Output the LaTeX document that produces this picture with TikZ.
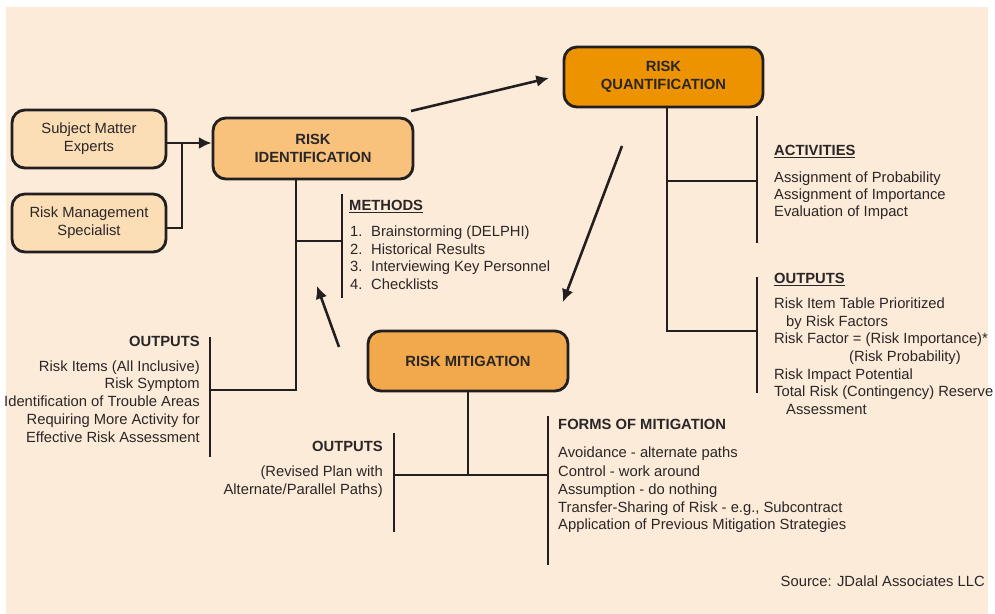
\documentclass[tikz,border=0pt]{standalone}
\usepackage{fontspec}
\setmainfont{Liberation Sans}
\usetikzlibrary{arrows.meta}
\definecolor{paper}{HTML}{FCEBD8}
\definecolor{ink}{HTML}{231F20}
\definecolor{txtc}{HTML}{2A2627}
\definecolor{paletan}{HTML}{FBDDB6}
\definecolor{idfill}{HTML}{F8C17C}
\definecolor{qfill}{HTML}{EE9300}
\definecolor{mfill}{HTML}{F2A94B}
\newcommand\dgfs{\fontsize{12.6}{15.3}\selectfont}
\tikzset{
  box/.style={draw=ink, line width=2.4pt, rounded corners=11pt, inner sep=0pt,
    align=center, font=\dgfs, text=txtc},
  titlebox/.style={box, font=\dgfs\bfseries},
  wire/.style={draw=ink, line width=2.2pt},
  bar/.style={draw=ink, line width=2.4pt},
  arr/.style={wire, -{Latex[length=3.8mm,width=3.6mm]}},
  txl/.style={anchor=base west, inner sep=0pt, font=\dgfs, text=txtc},
  txr/.style={anchor=base east, inner sep=0pt, font=\dgfs, text=txtc},
  hdl/.style={txl, font=\dgfs\bfseries},
  hdr/.style={txr, font=\dgfs\bfseries},
}
\begin{document}
\begin{tikzpicture}[x=0.03cm, y=-0.03cm]
\fill[white] (0,0) rectangle (995,614);
\useasboundingbox (0,0) rectangle (995,614);
\fill[paper] (6,7) rectangle (988,614);

% process boxes
\node[box, fill=paletan, minimum width=4.62cm, minimum height=1.74cm] (sme) at (89,139) {Subject Matter\\Experts};
\node[box, fill=paletan, minimum width=4.62cm, minimum height=1.74cm] (rms) at (89,223) {Risk Management\\Specialist};
\node[titlebox, fill=idfill, minimum width=6cm, minimum height=1.83cm] (ri) at (313,148.5) {RISK\\IDENTIFICATION};
\node[titlebox, fill=qfill, minimum width=5.97cm, minimum height=1.8cm] (rq) at (663.5,77) {RISK\\QUANTIFICATION};
\node[titlebox, fill=mfill, minimum width=6cm, minimum height=1.8cm] (rm) at (468,361) {RISK MITIGATION};

% inputs into identification
\coordinate (jtop) at (182,143);
\coordinate (jlow) at (182,228);
\draw[wire] (rms.east |- jlow) -- (jlow) -- (jtop);
\draw[arr] (sme.east |- jtop) -- (ri.west |- jtop);

% cycle arrows between the three stages
\coordinate (c1s) at (411,111);
\coordinate (c1e) at (549,78);
\coordinate (c2s) at (622,146);
\coordinate (c2e) at (563,302);
\coordinate (c3s) at (339,347);
\coordinate (c3e) at (317,286);
\draw[arr] (c1s) -- (c1e);
\draw[arr] (c2s) -- (c2e);
\draw[arr] (c3s) -- (c3e);

% identification tree
\coordinate (ritr) at (296,390);
\coordinate (mbar) at (342,241);
\coordinate (lobar) at (210,390);
\draw[wire] (ri.south -| ritr) -- (ritr) -- (lobar);
\draw[wire] (ritr |- mbar) -- (mbar);
\draw[bar] (342,194) -- (342,298);
\draw[bar] (210,337) -- (210,457);

\node[hdl] (mh) at (349,210) {\underline{METHODS}};
\foreach \y/\n/\t in {236/1./{Brainstorming (DELPHI)}, 254/2./{Historical Results},
    271/3./{Interviewing Key Personnel}, 289/4./{Checklists}}
  \node[txl] (m\y) at (350,\y) {\makebox[0.63cm][l]{\n}\t};

\node[hdr] (loh) at (200,346) {OUTPUTS};
\foreach \y/\t in {371/{Risk Items (All Inclusive)}, 388/{Risk Symptom},
    406/{Identification of Trouble Areas}, 424/{Requiring More Activity for},
    442/{Effective Risk Assessment}}
  \node[txr] (lo\y) at (200,\y) {\t};

% mitigation tree
\coordinate (rmtr) at (468,475);
\coordinate (mobar) at (394,475);
\coordinate (fbar) at (548,475);
\draw[wire] (rm.south -| rmtr) -- (rmtr);
\draw[wire] (mobar) -- (fbar);
\draw[bar] (394,433) -- (394,532);
\draw[bar] (548,416) -- (548,565);

\node[hdr] (moh) at (383,451) {OUTPUTS};
\node[txr] (mo1) at (383,476) {(Revised Plan with};
\node[txr] (mo2) at (383,494) {Alternate/Parallel Paths)};

\node[hdl] (fh) at (558,429) {FORMS OF MITIGATION};
\foreach \y/\t in {457/{Avoidance - alternate paths}, 476/{Control - work around},
    494/{Assumption - do nothing}, 512/{Transfer-Sharing of Risk - e.g., Subcontract},
    529/{Application of Previous Mitigation Strategies}}
  \node[txl] (f\y) at (558,\y) {\t};

% quantification tree
\coordinate (rqtr) at (667,331);
\coordinate (abar) at (757,181);
\coordinate (qobar) at (757,331);
\draw[wire] (rq.south -| rqtr) -- (rqtr) -- (qobar);
\draw[wire] (rqtr |- abar) -- (abar);
\draw[bar] (757,116) -- (757,243);
\draw[bar] (757,277) -- (757,393);

\node[hdl] (ah) at (774,155) {\underline{ACTIVITIES}};
\foreach \y/\t in {182/{Assignment of Probability}, 199/{Assignment of Importance},
    216/{Evaluation of Impact}}
  \node[txl] (a\y) at (774,\y) {\t};

\node[hdl] (qoh) at (774,283) {\underline{OUTPUTS}};
\foreach \x/\y/\t in {774/308/{Risk Item Table Prioritized}, 786/326/{by Risk Factors},
    774/343/{Risk Factor = (Risk Importance)*}, 849/361/{(Risk Probability)},
    774/379/{Risk Impact Potential}, 774/396/{Total Risk (Contingency) Reserve},
    786/414/{Assessment}}
  \node[txl] (q\y) at (\x,\y) {\t};

\node[txr] (src) at (985,586) {Source: JDalal Associates LLC};
\end{tikzpicture}
\end{document}
